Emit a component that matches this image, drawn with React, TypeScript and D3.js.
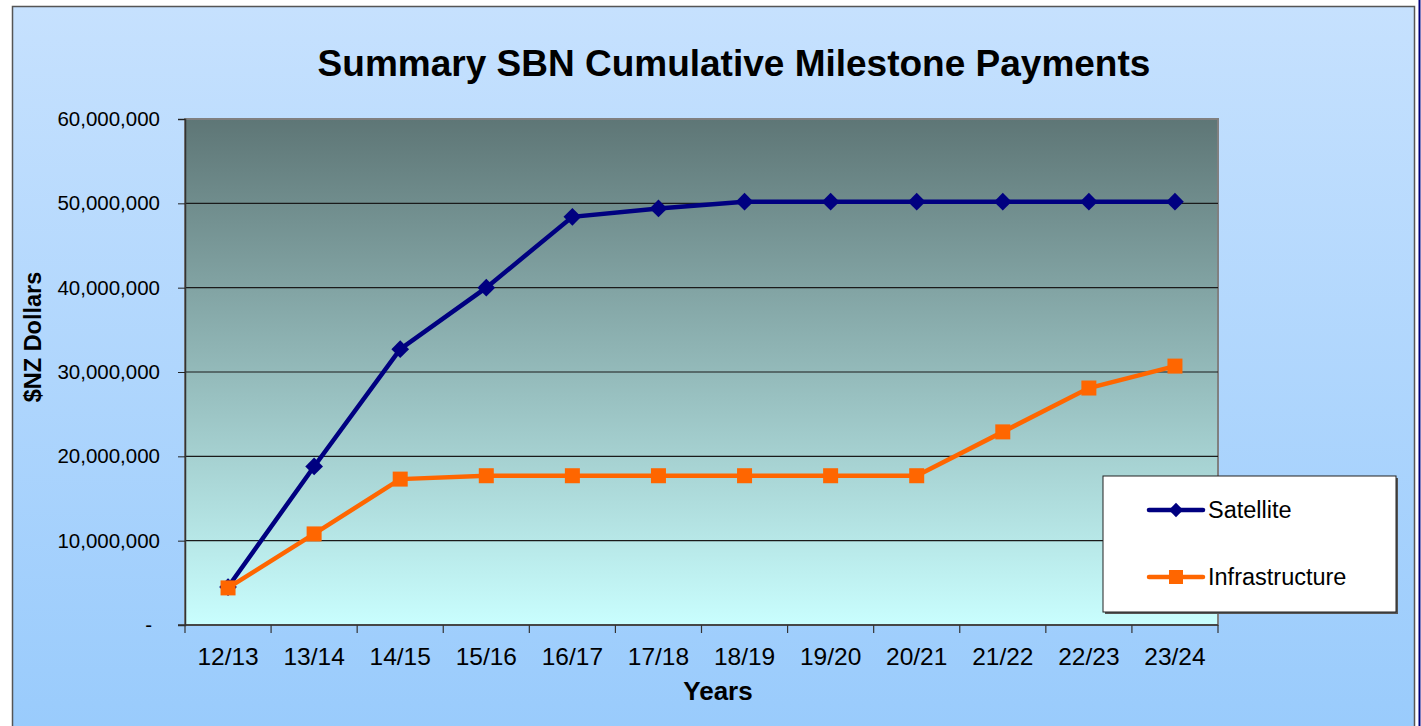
import React, { useEffect, useRef } from 'react';
import * as d3 from 'd3';

const years = ['12/13', '13/14', '14/15', '15/16', '16/17', '17/18', '18/19', '19/20', '20/21', '21/22', '22/23', '23/24'];
const satellite = [4.5, 18.8, 32.7, 40.0, 48.4, 49.4, 50.2, 50.2, 50.2, 50.2, 50.2, 50.2].map(v => v * 1e6);
const infrastructure = [4.4, 10.8, 17.3, 17.7, 17.7, 17.7, 17.7, 17.7, 17.7, 22.9, 28.1, 30.7].map(v => v * 1e6);
const yTicks = [0, 10e6, 20e6, 30e6, 40e6, 50e6, 60e6];

const W = 1421,
  H = 726;
const FONT = 'Liberation Sans, Arial, sans-serif';

export default function App() {
  const ref = useRef<SVGSVGElement>(null);

  useEffect(() => {
    const svg = d3.select(ref.current);
    svg.selectAll('*').remove();

    const defs = svg.append('defs');
    const bg = defs.append('linearGradient').attr('id', 'bg').attr('x1', 0).attr('x2', 0).attr('y1', 0).attr('y2', 1);
    bg.append('stop').attr('offset', '0%').attr('stop-color', '#c6e1fe');
    bg.append('stop').attr('offset', '100%').attr('stop-color', '#99cbfc');
    const pg = defs.append('linearGradient').attr('id', 'plotbg').attr('x1', 0).attr('x2', 0).attr('y1', 0).attr('y2', 1);
    pg.append('stop').attr('offset', '0%').attr('stop-color', '#5e7676');
    pg.append('stop').attr('offset', '100%').attr('stop-color', '#c9fefe');

    // outer chart area
    svg.append('rect').attr('width', W).attr('height', H).attr('fill', '#fff');
    svg
      .append('rect')
      .attr('x', 12.5)
      .attr('y', 6.5)
      .attr('width', 1402)
      .attr('height', 730)
      .attr('fill', 'url(#bg)')
      .attr('stroke', '#555')
      .attr('stroke-width', 1.5);
    svg.append('line').attr('x1', 1419.5).attr('x2', 1419.5).attr('y1', 0).attr('y2', H).attr('stroke', '#000080').attr('stroke-width', 2);

    const left = 185,
      right = 1218,
      top = 119,
      bottom = 625;

    const x = d3.scaleBand().domain(years).range([left, right]);
    const y = d3.scaleLinear().domain([0, 60e6]).range([bottom, top]);

    svg
      .append('rect')
      .attr('x', left)
      .attr('y', top)
      .attr('width', right - left)
      .attr('height', bottom - top)
      .attr('fill', 'url(#plotbg)')
      .attr('stroke', '#808080')
      .attr('stroke-width', 2);

    // gridlines
    svg
      .append('g')
      .selectAll('line')
      .data(yTicks.slice(1, -1))
      .enter()
      .append('line')
      .attr('x1', left)
      .attr('x2', right)
      .attr('y1', d => y(d))
      .attr('y2', d => y(d))
      .attr('stroke', '#1a1a1a')
      .attr('stroke-width', 1.2);

    // y axis
    const yAxis = svg
      .append('g')
      .attr('transform', `translate(${left},0)`)
      .call(
        d3
          .axisLeft(y)
          .tickValues(yTicks)
          .tickSize(7)
          .tickFormat(d => (+d === 0 ? '-' : d3.format(',')(+d)))
      );
    yAxis.select('.domain').attr('stroke', '#333').attr('stroke-width', 1.5);
    yAxis.selectAll('.tick line').attr('stroke', '#222');
    yAxis
      .selectAll('.tick text')
      .attr('font-family', FONT)
      .attr('font-size', 20.5)
      .attr('fill', '#000')
      .attr('text-anchor', 'end')
      .attr('x', -25);
    yAxis.selectAll('.tick text').filter(d => +d === 0).attr('x', -33);

    // x axis
    const xAxis = svg
      .append('g')
      .attr('transform', `translate(0,${bottom})`)
      .call(d3.axisBottom(x).tickSize(0));
    xAxis.select('.domain').attr('stroke', '#333').attr('stroke-width', 1.5).attr('d', `M${left - 7},0H${right}`);
    xAxis
      .selectAll('.tick text')
      .attr('font-family', FONT)
      .attr('font-size', 24.5)
      .attr('fill', '#000')
      .attr('dy', 0)
      .attr('y', 40);
    svg
      .append('g')
      .selectAll('line')
      .data(years.map(d => x(d)!).concat([right]))
      .enter()
      .append('line')
      .attr('x1', d => d)
      .attr('x2', d => d)
      .attr('y1', bottom)
      .attr('y2', bottom + 8)
      .attr('stroke', '#333')
      .attr('stroke-width', 1.2);

    const cx = (d: string) => x(d)! + x.bandwidth() / 2;

    const line = d3
      .line<number>()
      .x((_, i) => cx(years[i]))
      .y(d => y(d));

    svg.append('path').attr('d', line(satellite)).attr('fill', 'none').attr('stroke', '#000080').attr('stroke-width', 4.5);
    svg
      .append('g')
      .selectAll('path')
      .data(satellite)
      .enter()
      .append('path')
      .attr('d', d3.symbol().type(d3.symbolDiamond2).size(200)())
      .attr('transform', (d, i) => `translate(${cx(years[i])},${y(d)})`)
      .attr('fill', '#000080');

    svg.append('path').attr('d', line(infrastructure)).attr('fill', 'none').attr('stroke', '#ff6600').attr('stroke-width', 4.5);
    svg
      .append('g')
      .selectAll('rect')
      .data(infrastructure)
      .enter()
      .append('rect')
      .attr('x', (d, i) => cx(years[i]) - 7.5)
      .attr('y', d => y(d) - 7.5)
      .attr('width', 15)
      .attr('height', 15)
      .attr('fill', '#ff6600');

    // title
    svg
      .append('text')
      .attr('x', 734)
      .attr('y', 76)
      .attr('text-anchor', 'middle')
      .attr('font-family', FONT)
      .attr('font-weight', 'bold')
      .attr('font-size', 37)
      .text('Summary SBN Cumulative Milestone Payments');

    svg
      .append('text')
      .attr('x', 718)
      .attr('y', 700)
      .attr('text-anchor', 'middle')
      .attr('font-family', FONT)
      .attr('font-weight', 'bold')
      .attr('font-size', 26)
      .text('Years');

    svg
      .append('text')
      .attr('transform', `translate(41,337) rotate(-90)`)
      .attr('text-anchor', 'middle')
      .attr('font-family', FONT)
      .attr('font-weight', 'bold')
      .attr('font-size', 23.5)
      .text('$NZ Dollars');

    // legend
    const lg = svg.append('g').attr('transform', 'translate(1103,476)');
    lg.append('rect').attr('x', 2).attr('y', 2).attr('width', 293).attr('height', 136).attr('fill', '#555');
    lg.append('rect').attr('width', 293).attr('height', 136).attr('fill', '#fff').attr('stroke', '#222').attr('stroke-width', 1);
    const items = [
      { name: 'Satellite', color: '#000080', shape: 'diamond', ly: 34 },
      { name: 'Infrastructure', color: '#ff6600', shape: 'square', ly: 101 }
    ];
    items.forEach(it => {
      lg.append('line').attr('x1', 46).attr('x2', 100).attr('y1', it.ly).attr('y2', it.ly).attr('stroke', it.color).attr('stroke-width', 4.5).attr('stroke-linecap', 'round');
      if (it.shape === 'diamond') {
        lg.append('path').attr('d', d3.symbol().type(d3.symbolDiamond2).size(130)()).attr('transform', `translate(73,${it.ly})`).attr('fill', it.color);
      } else {
        lg.append('rect').attr('x', 66).attr('y', it.ly - 7).attr('width', 14).attr('height', 14).attr('fill', it.color);
      }
      lg.append('text')
        .attr('x', 105)
        .attr('y', it.ly + 8)
        .attr('font-family', FONT)
        .attr('font-size', 23.5)
        .text(it.name);
    });
  }, []);

  return <svg ref={ref} width={W} height={H} style={{ position: 'absolute', left: 0, top: 0, display: 'block' }} />;
}
